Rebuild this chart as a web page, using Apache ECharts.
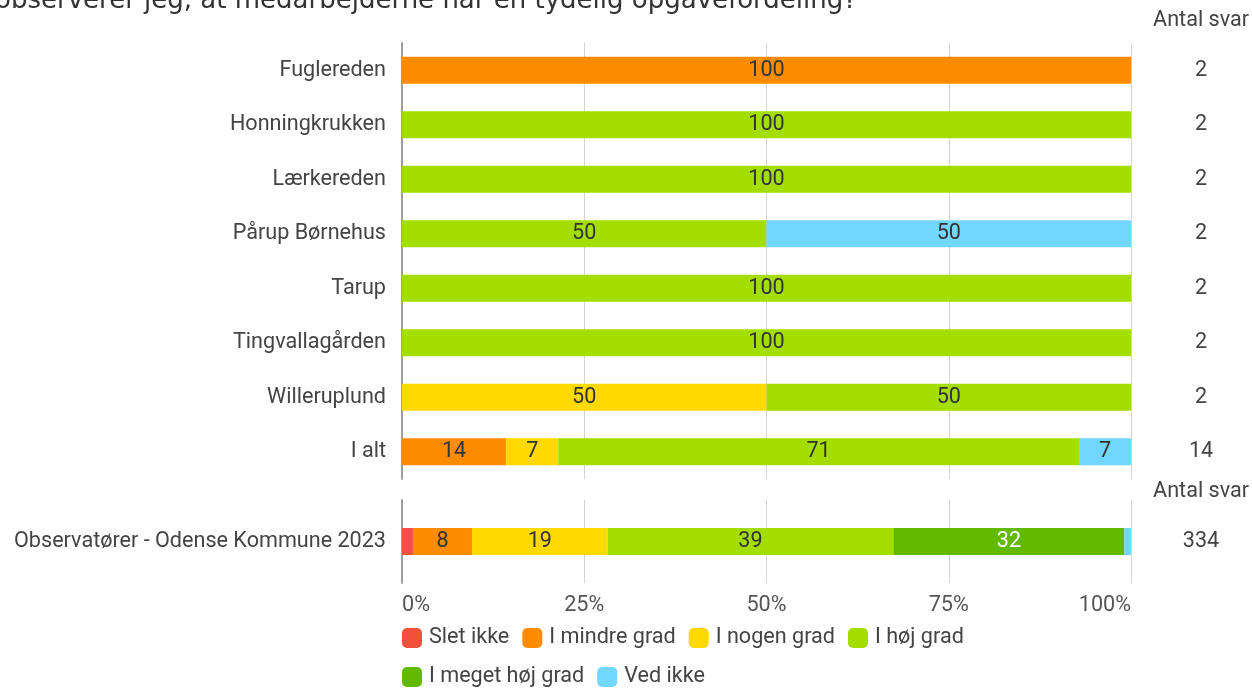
<!DOCTYPE html>
<html>
<head>
    <meta charset="utf-8">
    <title>Opgavefordeling</title>
    <script src="https://cdn.jsdelivr.net/npm/echarts@6/dist/echarts.min.js"></script>
    <style>
        html, body { margin: 0; padding: 0; background: #fff; }
    </style>
</head>
<body>
    <div id="main" style="width: 1252px;height:688px;"></div>
    <script type="text/javascript">
        // kategorier og svar (procent)
        var categories = ['Fuglereden', 'Honningkrukken', 'Lærkereden', 'Pårup Børnehus', 'Tarup', 'Tingvallagården', 'Willeruplund', 'I alt'];
        var antalSvar = [2, 2, 2, 2, 2, 2, 2, 14];
        var sletIkke = [0, 0, 0, 0, 0, 0, 0, 0];
        var mindreGrad = [100, 0, 0, 0, 0, 0, 0, 14.29];
        var nogenGrad = [0, 0, 0, 0, 0, 0, 50, 7.14];
        var hoejGrad = [0, 100, 100, 50, 100, 100, 50, 71.43];
        var megetHoejGrad = [0, 0, 0, 0, 0, 0, 0, 0];
        var vedIkke = [0, 0, 0, 50, 0, 0, 0, 7.14];

        var kommuneCategory = ['Observatører - Odense Kommune 2023'];
        var kommuneSvar = [334];
        // Slet ikke, I mindre grad, I nogen grad, I høj grad, I meget høj grad, Ved ikke
        var kommuneValues = [1.5, 8.1, 18.6, 39.2, 31.7, 0.9];

        var seriesNames = ['Slet ikke', 'I mindre grad', 'I nogen grad', 'I høj grad', 'I meget høj grad', 'Ved ikke'];
        var colors = ['#f4513d', '#ff8c00', '#ffd900', '#a3de00', '#63b800', '#72d7ff'];
        var labelColors = ['#333', '#333', '#333', '#333', '#fff', '#333'];
        var topData = [sletIkke, mindreGrad, nogenGrad, hoejGrad, megetHoejGrad, vedIkke];

        var font = 'Roboto';
        var fs = 21.6;

        function barLabel(i) {
            return {
                show: true,
                color: labelColors[i],
                fontFamily: font,
                fontSize: fs,
                formatter: function (p) {
                    return p.value < 3 ? '' : Math.round(p.value);
                }
            };
        }

        var series = [];
        for (var i = 0; i < seriesNames.length; i++) {
            series.push({
                name: seriesNames[i],
                type: 'bar',
                stack: 'top',
                xAxisIndex: 0,
                yAxisIndex: 0,
                barWidth: 27,
                itemStyle: { color: colors[i] },
                label: barLabel(i),
                data: topData[i]
            });
        }
        for (var i = 0; i < seriesNames.length; i++) {
            series.push({
                name: seriesNames[i],
                type: 'bar',
                stack: 'bottom',
                xAxisIndex: 1,
                yAxisIndex: 2,
                barWidth: 27,
                itemStyle: { color: colors[i] },
                label: barLabel(i),
                data: [kommuneValues[i]]
            });
        }

        var splitLine = { show: true, lineStyle: { color: '#d4d4d4', width: 1 } };
        var leftLine = { show: true, lineStyle: { color: '#9e9e9e', width: 2 } };
        var legendText = { fontFamily: font, fontSize: fs, color: '#444', padding: [0, 0, 0, 2] };

        var myChart = echarts.init(document.getElementById('main'));

        var option = {
            animation: false,
            textStyle: { fontFamily: font },
            graphic: [{
                type: 'text',
                left: -5,
                top: -12,
                style: {
                    text: 'observerer jeg, at medarbejderne har en tydelig opgavefordeling?',
                    font: '26px "DejaVu Sans"',
                    fill: '#333'
                }
            }],
            legend: [{
                data: seriesNames.slice(0, 4),
                left: 402,
                top: 627,
                padding: 0,
                icon: 'roundRect',
                itemWidth: 20,
                itemHeight: 20,
                itemGap: 13,
                textStyle: legendText
            }, {
                data: seriesNames.slice(4),
                left: 402,
                top: 666,
                padding: 0,
                icon: 'roundRect',
                itemWidth: 20,
                itemHeight: 20,
                itemGap: 13,
                textStyle: legendText
            }],
            grid: [
                { left: 402, right: 120, top: 43, height: 436 },
                { left: 402, right: 120, top: 500, height: 83 }
            ],
            xAxis: [{
                gridIndex: 0,
                type: 'value',
                min: 0,
                max: 100,
                interval: 25,
                axisLabel: { show: false },
                axisLine: { show: false },
                axisTick: { show: false },
                splitLine: splitLine
            }, {
                gridIndex: 1,
                type: 'value',
                min: 0,
                max: 100,
                interval: 25,
                axisLabel: {
                    formatter: '{value}%', fontSize: fs, color: '#555', margin: 12,
                    alignMinLabel: 'left', alignMaxLabel: 'right'
                },
                axisLine: { show: false },
                axisTick: { show: false },
                splitLine: splitLine
            }],
            yAxis: [{
                gridIndex: 0,
                type: 'category',
                inverse: true,
                data: categories,
                axisLine: leftLine,
                axisTick: { show: false },
                axisLabel: { fontSize: fs, color: '#444', margin: 16 }
            }, {
                gridIndex: 0,
                type: 'category',
                inverse: true,
                position: 'right',
                offset: 70,
                data: antalSvar,
                name: 'Antal svar',
                nameLocation: 'start',
                nameGap: 11,
                nameTextStyle: { fontSize: fs, color: '#444', align: 'center' },
                axisLine: { show: false },
                axisTick: { show: false },
                axisLabel: { fontSize: fs, color: '#444', margin: 0, align: 'center' }
            }, {
                gridIndex: 1,
                type: 'category',
                data: kommuneCategory,
                axisLine: leftLine,
                axisTick: { show: false },
                axisLabel: { fontSize: fs, color: '#444', margin: 16 }
            }, {
                gridIndex: 1,
                type: 'category',
                position: 'right',
                offset: 70,
                data: kommuneSvar,
                name: 'Antal svar',
                nameLocation: 'end',
                nameGap: -3,
                nameTextStyle: { fontSize: fs, color: '#444', align: 'center' },
                axisLine: { show: false },
                axisTick: { show: false },
                axisLabel: { fontSize: fs, color: '#444', margin: 0, align: 'center' }
            }],
            series: series
        };

        myChart.setOption(option);
    </script>
</body>
</html>
